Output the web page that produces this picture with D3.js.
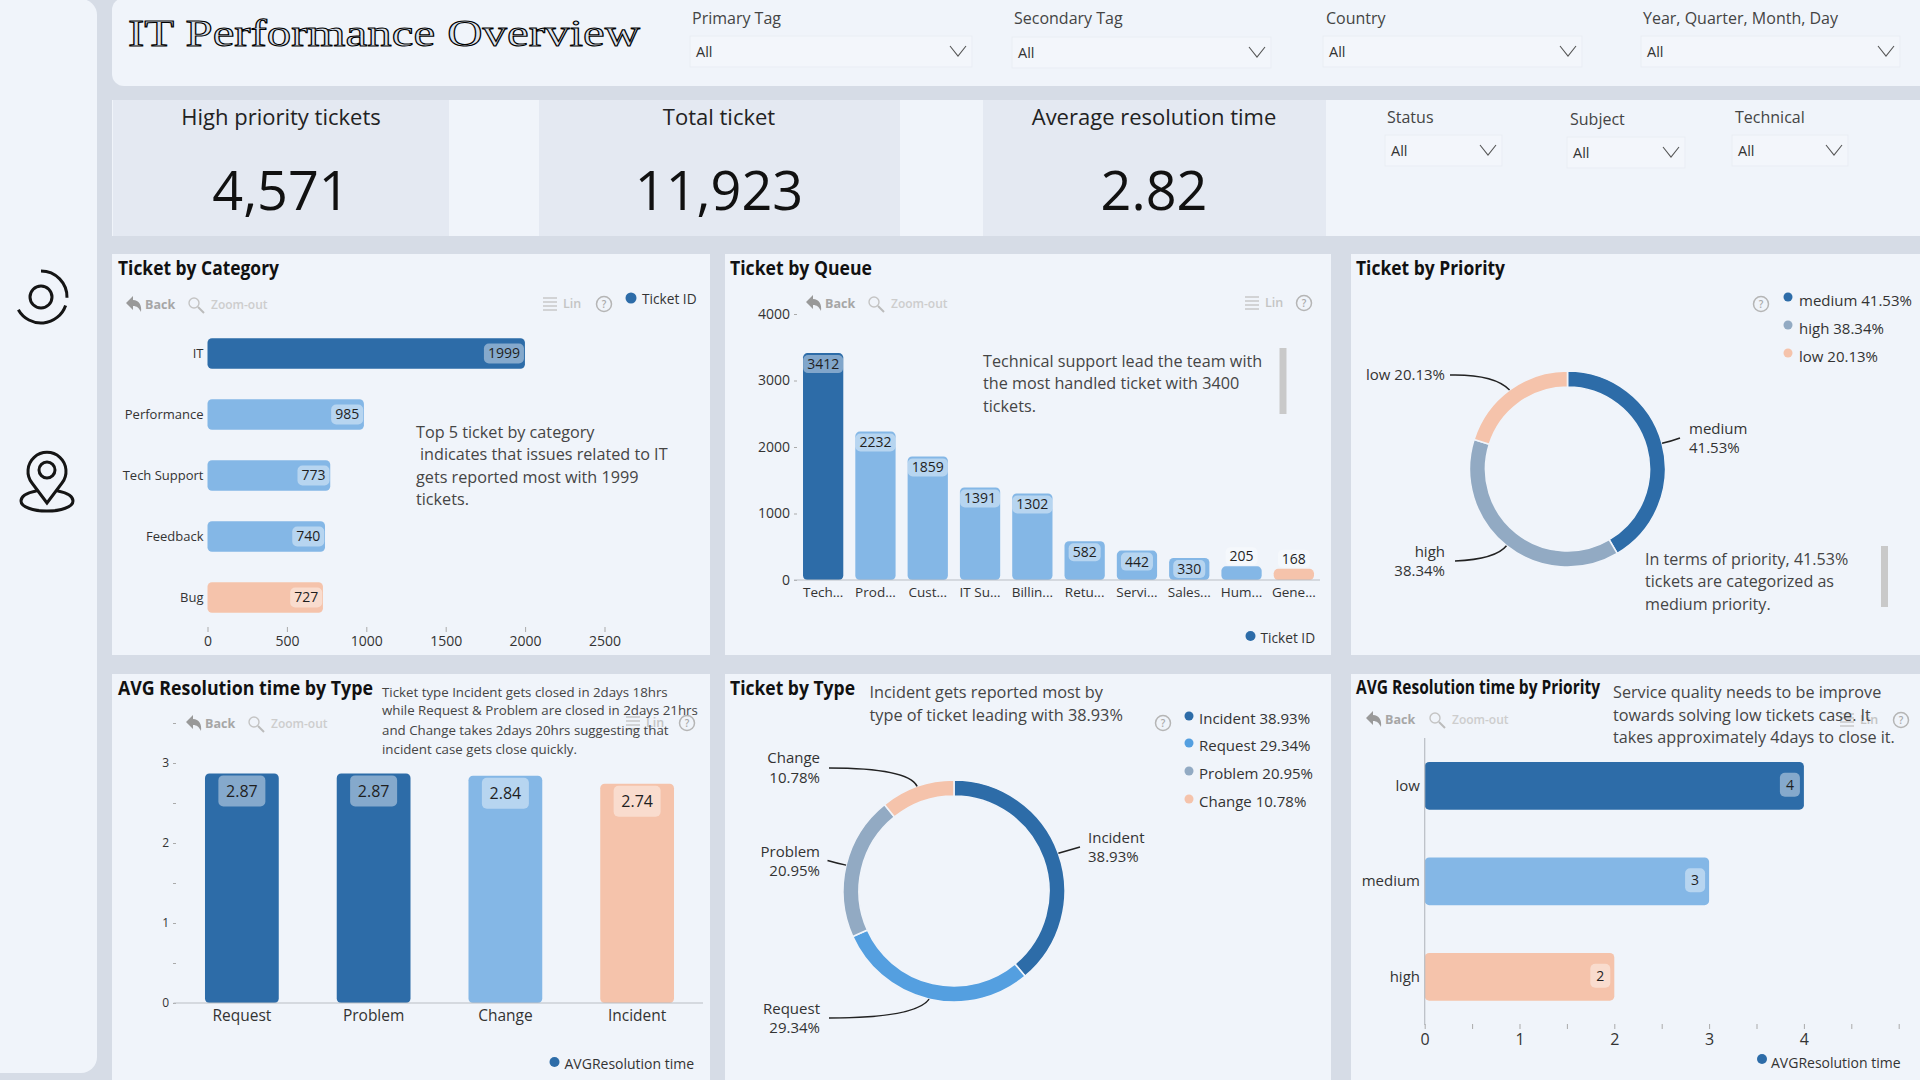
<!DOCTYPE html>
<html>
<head>
<meta charset="utf-8">
<script src="https://cdn.jsdelivr.net/npm/d3@7"></script>
<style>
  body { margin: 0; background: #d6dce6; overflow: hidden; }
  text { font-family: "Open Sans", sans-serif; }
  .tick text { fill: #333; }
</style>
</head>
<body>
<div class="container"></div>
<script>
// values
const categoryNames = ['IT', 'Performance', 'Tech Support', 'Feedback', 'Bug'];
const categoryValues = [1999, 985, 773, 740, 727];
const categoryTicks = [0, 500, 1000, 1500, 2000, 2500];

const queueNames = ['Tech...', 'Prod...', 'Cust...', 'IT Su...', 'Billin...', 'Retu...', 'Servi...', 'Sales...', 'Hum...', 'Gene...'];
const queueValues = [3412, 2232, 1859, 1391, 1302, 582, 442, 330, 205, 168];
const queueTicks = [0, 1000, 2000, 3000, 4000];

const priorityNames = ['medium', 'high', 'low'];
const priorityShares = [41.53, 38.34, 20.13];

const typeResNames = ['Request', 'Problem', 'Change', 'Incident'];
const typeResValues = [2.87, 2.87, 2.84, 2.74];
const typeResTicks = [0, 0.5, 1, 1.5, 2, 2.5, 3, 3.5];

const typeNames = ['Incident', 'Request', 'Problem', 'Change'];
const typeShares = [38.93, 29.34, 20.95, 10.78];

const priorityResNames = ['low', 'medium', 'high'];
const priorityResValues = [4, 3, 2];
const priorityResTicks = [0, 0.5, 1, 1.5, 2, 2.5, 3, 3.5, 4, 4.5, 5];

const DARK = '#2d6ca8';
const LIGHT = '#84b7e6';
const PEACH = '#f5c3ab';
const SLATE = '#92aac3';
const SKY = '#549fe0';
const PANEL = '#f0f4fa';
const NOTE = '#454545';

const WIDTH = 1920;
const HEIGHT = 1080;

let svg = d3.select('.container').append('svg')
    .attr('width', WIDTH)
    .attr('height', HEIGHT)
    .style('display', 'block');

let addText = function (str, x, y, size, opts) {
    opts = opts || {};
    let t = svg.append('text')
        .attr('x', x)
        .attr('y', y)
        .attr('dy', '.35em')
        .attr('font-size', size)
        .attr('font-weight', opts.weight || 400)
        .attr('fill', opts.fill || '#222')
        .attr('text-anchor', opts.anchor || 'start')
        .text(str);
    if (opts.len) t.attr('textLength', opts.len).attr('lengthAdjust', 'spacingAndGlyphs');
    return t;
};

let addLines = function (rows, x, ys, size) {
    rows.forEach((row, i) => addText(row, x, ys[i], size, { fill: NOTE }));
};

let addTitle = function (str, x, y, len) {
    addText(str, x, y, 19, { weight: 700, fill: '#111', len: len });
};

let panel = function (x, y, w, h, color, rx) {
    svg.append('rect').attr('x', x).attr('y', y).attr('width', w).attr('height', h)
        .attr('rx', rx || 0).attr('fill', color);
};

// page blocks
panel(-30, -1, 127, 1074, PANEL, 16);
panel(112, -2, 1838, 88, PANEL, 12);
panel(112, 100, 1808, 136, PANEL);
panel(113, 100, 336, 136, '#e4e9f2');
panel(539, 100, 361, 136, '#e4e9f2');
panel(983, 100, 343, 136, '#e4e9f2');
[[112, 598], [725, 606], [1351, 569]].forEach(p => {
    panel(p[0], 254, p[1], 401, PANEL);
    panel(p[0], 674, p[1], 406, PANEL);
});

// sidebar icons
let icons = svg.append('g').attr('fill', 'none').attr('stroke', '#151515').attr('stroke-width', 3).attr('stroke-linecap', 'round');
let ringArc = d3.arc().innerRadius(26).outerRadius(26);
icons.append('circle').attr('cx', 41).attr('cy', 297).attr('r', 11);
icons.append('path').attr('transform', 'translate(41,297)').attr('d', ringArc({ startAngle: 0, endAngle: 1.6 }));
icons.append('path').attr('transform', 'translate(41,297)').attr('d', ringArc({ startAngle: 1.9, endAngle: 4.2 }));
icons.append('path').attr('d', 'M47 503 L32 483 A19 19 0 1 1 62 483 Z');
icons.append('circle').attr('cx', 47).attr('cy', 470).attr('r', 8);
icons.append('path').attr('d', 'M36 491 C26 493 21 497 21 501 C21 507 33 511 47 511 C61 511 73 507 73 501 C73 497 68 493 58 491');

// title
svg.append('text')
    .attr('x', 128).attr('y', 46)
    .attr('textLength', 512).attr('lengthAdjust', 'spacingAndGlyphs')
    .style('font-family', '"Liberation Serif", serif')
    .attr('font-size', 37)
    .attr('fill', '#dde4ee').attr('stroke', '#000').attr('stroke-width', 1)
    .text('IT Performance Overview');

// slicers
let slicer = function (label, lx, ly, bx, by, bw) {
    addText(label, lx, ly, 16, { fill: '#444' });
    svg.append('rect').attr('x', bx).attr('y', by).attr('width', bw).attr('height', 31)
        .attr('fill', '#f3f6fb').attr('stroke', '#e9edf4');
    addText('All', bx + 6, by + 16, 14.5, { fill: '#333' });
    let cx = bx + bw - 14;
    let cy = by + 15;
    svg.append('path').attr('d', `M${cx - 8} ${cy - 5} L${cx} ${cy + 5} L${cx + 8} ${cy - 5}`)
        .attr('fill', 'none').attr('stroke', '#555').attr('stroke-width', 1.1);
};
slicer('Primary Tag', 692, 18, 690, 36, 282);
slicer('Secondary Tag', 1014, 18, 1012, 37, 259);
slicer('Country', 1326, 18, 1323, 36, 259);
slicer('Year, Quarter, Month, Day', 1643, 18, 1641, 36, 259);
slicer('Status', 1387, 117, 1385, 135, 117);
slicer('Subject', 1570, 119, 1567, 137, 118);
slicer('Technical', 1735, 117, 1732, 135, 116);

// KPI cards
let kpi = function (label, value, cx) {
    addText(label, cx, 117, 22, { anchor: 'middle' });
    addText(value, cx, 191, 54, { anchor: 'middle', fill: '#111' });
};
kpi('High priority tickets', '4,571', 281);
kpi('Total ticket', '11,923', 719);
kpi('Average resolution time', '2.82', 1154);

// grey toolbar of the visuals
let helpIcon = function (x, y) {
    svg.append('circle').attr('cx', x).attr('cy', y).attr('r', 7.5)
        .attr('fill', 'none').attr('stroke', '#b5b5b5').attr('stroke-width', 1.5);
    addText('?', x, y, 10, { anchor: 'middle', fill: '#aaa', weight: 600 });
};
let toolbarLeft = function (x, zx, y) {
    svg.append('path')
        .attr('d', `M${x} ${y - 2} L${x + 7} ${y - 9} L${x + 7} ${y - 5} C${x + 13} ${y - 5} ${x + 16} ${y} ${x + 15} ${y + 7} C${x + 13} ${y + 3} ${x + 11} ${y + 1} ${x + 7} ${y + 1} L${x + 7} ${y + 5} Z`)
        .attr('fill', '#999');
    addText('Back', x + 19, y, 12.5, { fill: '#a6a6a6', weight: 700 });
    svg.append('circle').attr('cx', zx + 5).attr('cy', y - 2).attr('r', 5)
        .attr('fill', 'none').attr('stroke', '#c4c4c4').attr('stroke-width', 1.4);
    svg.append('line').attr('x1', zx + 9).attr('y1', y + 2).attr('x2', zx + 15).attr('y2', y + 8)
        .attr('stroke', '#bbb').attr('stroke-width', 2);
    addText('Zoom-out', zx + 22, y, 12, { fill: '#cdcdcd', weight: 600 });
};
let toolbarRight = function (x, helpX, y) {
    [-6, -2, 2, 6].forEach(d => {
        svg.append('line').attr('x1', x).attr('x2', x + 14).attr('y1', y + d).attr('y2', y + d)
            .attr('stroke', '#c8c8c8').attr('stroke-width', 1.5);
    });
    addText('Lin', x + 20, y, 12.5, { fill: '#c4c4c4', weight: 600 });
    helpIcon(helpX, y);
};

let legendDot = function (x, y, r, color, label, tx, ty, size) {
    svg.append('circle').attr('cx', x).attr('cy', y).attr('r', r).attr('fill', color);
    addText(label, tx, ty, size, { fill: '#333' });
};

let cleanAxis = function (g, size) {
    g.select('.domain').remove();
    g.selectAll('.tick line').attr('stroke', '#aaa');
    g.selectAll('.tick text').attr('font-size', size);
};

// value badge, translucent white behind the number
let badge = function (value, cx, cy, size, h, fillOpacity, minW) {
    let g = svg.append('g');
    let t = g.append('text').attr('x', cx).attr('y', cy).attr('dy', '.35em')
        .attr('font-size', size).attr('text-anchor', 'middle').attr('fill', '#1f1f1f').text(value);
    let w = Math.max(t.node().getComputedTextLength() + 8, minW || 0);
    g.insert('rect', 'text').attr('x', cx - w / 2).attr('y', cy - h / 2)
        .attr('width', w).attr('height', h).attr('rx', 5)
        .attr('fill', '#fff').attr('fill-opacity', fillOpacity);
    return w;
};

let barColor = (list, darkCount) => (d, i) => i < darkCount ? DARK : (i === list.length - 1 ? PEACH : LIGHT);

let drawHorizontal = function (names, values, colors, xScale, yScale) {
    svg.append('g').selectAll('rect').data(values).enter().append('rect')
        .attr('x', xScale(0))
        .attr('y', (d, i) => yScale(names[i]))
        .attr('width', d => xScale(d) - xScale(0))
        .attr('height', yScale.bandwidth())
        .attr('rx', 4.5)
        .attr('fill', colors);
};

let drawVertical = function (names, values, colors, xScale, yScale) {
    svg.append('g').selectAll('rect').data(values).enter().append('rect')
        .attr('x', (d, i) => xScale(names[i]))
        .attr('y', d => yScale(d))
        .attr('width', xScale.bandwidth())
        .attr('height', d => yScale(0) - yScale(d))
        .attr('rx', 4.5)
        .attr('fill', colors);
};

// ---- Ticket by Category
addTitle('Ticket by Category', 118, 268, 161);
toolbarLeft(126, 189, 305);
toolbarRight(543, 604, 304);
legendDot(631, 298, 5.5, DARK, 'Ticket ID', 642, 299, 13.7);

let catX = d3.scaleLinear().domain([0, 2500]).range([207.5, 604.5]);
let catY = d3.scaleBand().domain(categoryNames).range([323, 628]).paddingInner(0.5).paddingOuter(0.25);
drawHorizontal(categoryNames, categoryValues, barColor(categoryNames, 1), catX, catY);
categoryValues.forEach((v, i) => {
    let t = String(v).length * 8.5 + 4;
    badge(v, catX(v) - t / 2 - 2, catY(categoryNames[i]) + catY.bandwidth() / 2, 14, 20, 0.42, t);
});
svg.append('g').attr('transform', 'translate(0,627)')
    .call(d3.axisBottom(catX).tickValues(categoryTicks).tickSize(5).tickPadding(4).tickFormat(d3.format('d')))
    .call(g => cleanAxis(g, 14));
svg.append('g').attr('transform', 'translate(203.5,0)')
    .call(d3.axisLeft(catY).tickSize(0).tickPadding(0))
    .call(g => cleanAxis(g, 13));
addLines(['Top 5 ticket by category'], 416, [432], 16.2);
addLines(['indicates that issues related to IT'], 420, [454], 16.2);
addLines(['gets reported most with 1999', 'tickets.'], 416, [477, 499], 16.2);

// ---- Ticket by Queue
addTitle('Ticket by Queue', 730, 268, 142);
toolbarLeft(806, 869, 304);
toolbarRight(1245, 1304, 303);

let queueX = d3.scaleBand().domain(queueNames).range([797, 1320]).paddingInner(0.23).paddingOuter(0.115);
let queueY = d3.scaleLinear().domain([0, 4000]).range([580, 314]);
drawVertical(queueNames, queueValues, barColor(queueNames, 1), queueX, queueY);
queueValues.forEach((v, i) => {
    let cx = queueX(queueNames[i]) + queueX.bandwidth() / 2;
    if (v < 300) badge(v, cx, queueY(v) - 10, 14, 18, 0.35);
    else badge(v, cx, queueY(v) + 11, 14, 18, i === 0 ? 0.4 : 0.42);
});
svg.append('g').attr('transform', 'translate(797,0)')
    .call(d3.axisLeft(queueY).tickValues(queueTicks).tickSize(3).tickPadding(4).tickFormat(d3.format('d')))
    .call(g => cleanAxis(g, 14));
svg.append('g').attr('transform', 'translate(0,580)')
    .call(d3.axisBottom(queueX).tickSize(0).tickPadding(7))
    .call(g => cleanAxis(g, 13.5));
svg.append('line').attr('x1', 794).attr('x2', 1320).attr('y1', 580).attr('y2', 580).attr('stroke', '#b9bdc4').attr('stroke-width', 1.2);
addLines(['Technical support lead the team with', 'the most handled ticket with 3400', 'tickets.'], 983, [361, 383, 406], 16.2);
panel(1279.5, 348, 7, 66, '#c9c9c9');
legendDot(1250.5, 636, 5, DARK, 'Ticket ID', 1260.5, 638, 13.7);

// donut with curved leader lines starting at the arc
let drawDonut = function (names, shares, colors, cx, cy, rOuter, rInner, leaders) {
    let pie = d3.pie().sort(null).value(d => d)(shares);
    let arc = d3.arc().innerRadius(rInner).outerRadius(rOuter);
    let g = svg.append('g').attr('transform', `translate(${cx},${cy})`);
    g.selectAll('path').data(pie).enter().append('path')
        .attr('d', arc)
        .attr('fill', (d, i) => colors[i])
        .attr('stroke', PANEL)
        .attr('stroke-width', 1.6);
    pie.forEach((d, i) => {
        let mid = (d.startAngle + d.endAngle) / 2;
        let ax = Math.sin(mid) * rOuter;
        let ay = -Math.cos(mid) * rOuter;
        let l = leaders[i];
        let p = d3.path();
        p.moveTo(ax, ay);
        p.quadraticCurveTo(l.cx - cx, l.cy - cy, l.x - cx, l.y - cy);
        g.append('path').attr('d', p.toString()).attr('fill', 'none').attr('stroke', '#222').attr('stroke-width', 1.5);
    });
};

// ---- Ticket by Priority
addTitle('Ticket by Priority', 1356, 268, 149);
helpIcon(1761, 304);
const priorityColors = [DARK, SLATE, PEACH];
[297, 325, 353].forEach((y, i) => {
    legendDot(1788, y, 4.5, priorityColors[i], `${priorityNames[i]} ${priorityShares[i]}%`, 1799, y + 3.5, 15);
});
drawDonut(priorityNames, priorityShares, priorityColors, 1567.5, 469, 98, 82, [
    { cx: 1672, cy: 441, x: 1680, y: 438 },
    { cx: 1496, cy: 559, x: 1455, y: 561 },
    { cx: 1494, cy: 374, x: 1450, y: 375 }
]);
addText('medium', 1689, 429, 15, { fill: '#333' });
addText('41.53%', 1689, 448, 15, { fill: '#333' });
addText('low 20.13%', 1445, 375, 15, { fill: '#333', anchor: 'end' });
addText('high', 1445, 552, 15, { fill: '#333', anchor: 'end' });
addText('38.34%', 1445, 571, 15, { fill: '#333', anchor: 'end' });
addLines(['In terms of priority, 41.53%', 'tickets are categorized as', 'medium priority.'], 1645, [559, 581, 604], 16.1);
panel(1881, 546, 7, 61, '#c9c9c9');

// ---- AVG Resolution time by Type
addTitle('AVG Resolution time by Type', 118, 688, 255);
toolbarLeft(186, 249, 724);
toolbarRight(626, 687, 723);

let resX = d3.scaleBand().domain(typeResNames).range([176, 703]).paddingInner(0.44).paddingOuter(0.22);
let resY = d3.scaleLinear().domain([0, 3]).range([1003, 763]);
drawVertical(typeResNames, typeResValues, (d, i) => i < 2 ? DARK : (i === 2 ? LIGHT : PEACH), resX, resY);
typeResValues.forEach((v, i) => {
    badge(v.toFixed(2), resX(typeResNames[i]) + resX.bandwidth() / 2, resY(v) + 17.5, 16, 31, 0.42, 47);
});
svg.append('g').attr('transform', 'translate(176,0)')
    .call(d3.axisLeft(resY).tickValues(typeResTicks).tickSize(3).tickPadding(4)
        .tickFormat(d => Number.isInteger(d) && d <= 3 ? d : ''))
    .call(g => cleanAxis(g, 12));
svg.append('g').attr('transform', 'translate(0,1003)')
    .call(d3.axisBottom(resX).tickSize(0).tickPadding(7))
    .call(g => cleanAxis(g, 15.5));
svg.append('line').attr('x1', 173.5).attr('x2', 703).attr('y1', 1003).attr('y2', 1003).attr('stroke', '#b9bdc4').attr('stroke-width', 1.2);
addLines(['Ticket type Incident gets closed in 2days 18hrs', 'while Request & Problem are closed in 2days 21hrs', 'and Change takes 2days 20hrs suggesting that', 'incident case gets close quickly.'], 382, [692, 710, 730, 749], 13.3);
legendDot(554.5, 1062, 5, DARK, 'AVGResolution time', 564.5, 1064, 14);

// ---- Ticket by Type
addTitle('Ticket by Type', 730, 688, 125);
addLines(['Incident gets reported most by', 'type of ticket leading with 38.93%'], 869.5, [692, 715], 16.3);
helpIcon(1163, 723);
const typeColors = [DARK, SKY, SLATE, PEACH];
[716, 743, 771, 799].forEach((y, i) => {
    legendDot(1189, y, 4.5, typeColors[i], `${typeNames[i]} ${typeShares[i]}%`, 1199, y + 3, 15);
});
drawDonut(typeNames, typeShares, typeColors, 954, 891, 111, 95, [
    { cx: 1066, cy: 851, x: 1080, y: 847 },
    { cx: 916, cy: 1018, x: 829, y: 1018 },
    { cx: 836, cy: 863, x: 827.5, y: 860.5 },
    { cx: 908, cy: 768, x: 829, y: 768 }
]);
addText('Incident', 1088, 838, 15, { fill: '#333' });
addText('38.93%', 1088, 857, 15, { fill: '#333' });
[['Change', 758], ['10.78%', 778], ['Problem', 852], ['20.95%', 871], ['Request', 1009], ['29.34%', 1028]].forEach(r => {
    addText(r[0], 820, r[1], 15, { fill: '#333', anchor: 'end' });
});

// ---- AVG Resolution time by Priority
addTitle('AVG Resolution time by Priority', 1356, 687, 244);
toolbarLeft(1366, 1430, 720);
toolbarRight(1840, 1901, 720);

let prX = d3.scaleLinear().domain([0, 5]).range([1424.7, 1898.7]);
let prY = d3.scaleBand().domain(priorityResNames).range([738, 1024.5]).paddingInner(0.5).paddingOuter(0.25);
drawHorizontal(priorityResNames, priorityResValues, barColor(priorityResNames, 1), prX, prY);
priorityResValues.forEach((v, i) => {
    badge(v, prX(v) - 14, prY(priorityResNames[i]) + prY.bandwidth() / 2 - 1, 14, 24, 0.42, 20);
});
svg.append('line').attr('x1', 1424.7).attr('x2', 1424.7).attr('y1', 738).attr('y2', 1025).attr('stroke', '#b9bdc4').attr('stroke-width', 1.2);
svg.append('g').attr('transform', 'translate(0,1024)')
    .call(d3.axisBottom(prX).tickValues(priorityResTicks).tickSize(5).tickPadding(5)
        .tickFormat(d => Number.isInteger(d) && d < 5 ? d : ''))
    .call(g => cleanAxis(g, 16));
svg.append('g').attr('transform', 'translate(1420,0)')
    .call(d3.axisLeft(prY).tickSize(0).tickPadding(0))
    .call(g => cleanAxis(g, 15));
addLines(['Service quality needs to be improve', 'towards solving low tickets case. It', 'takes approximately 4days to close it.'], 1613, [692, 715, 737], 16.2);
legendDot(1762, 1059, 5, DARK, 'AVGResolution time', 1771, 1063, 14);
</script>
</body>
</html>
